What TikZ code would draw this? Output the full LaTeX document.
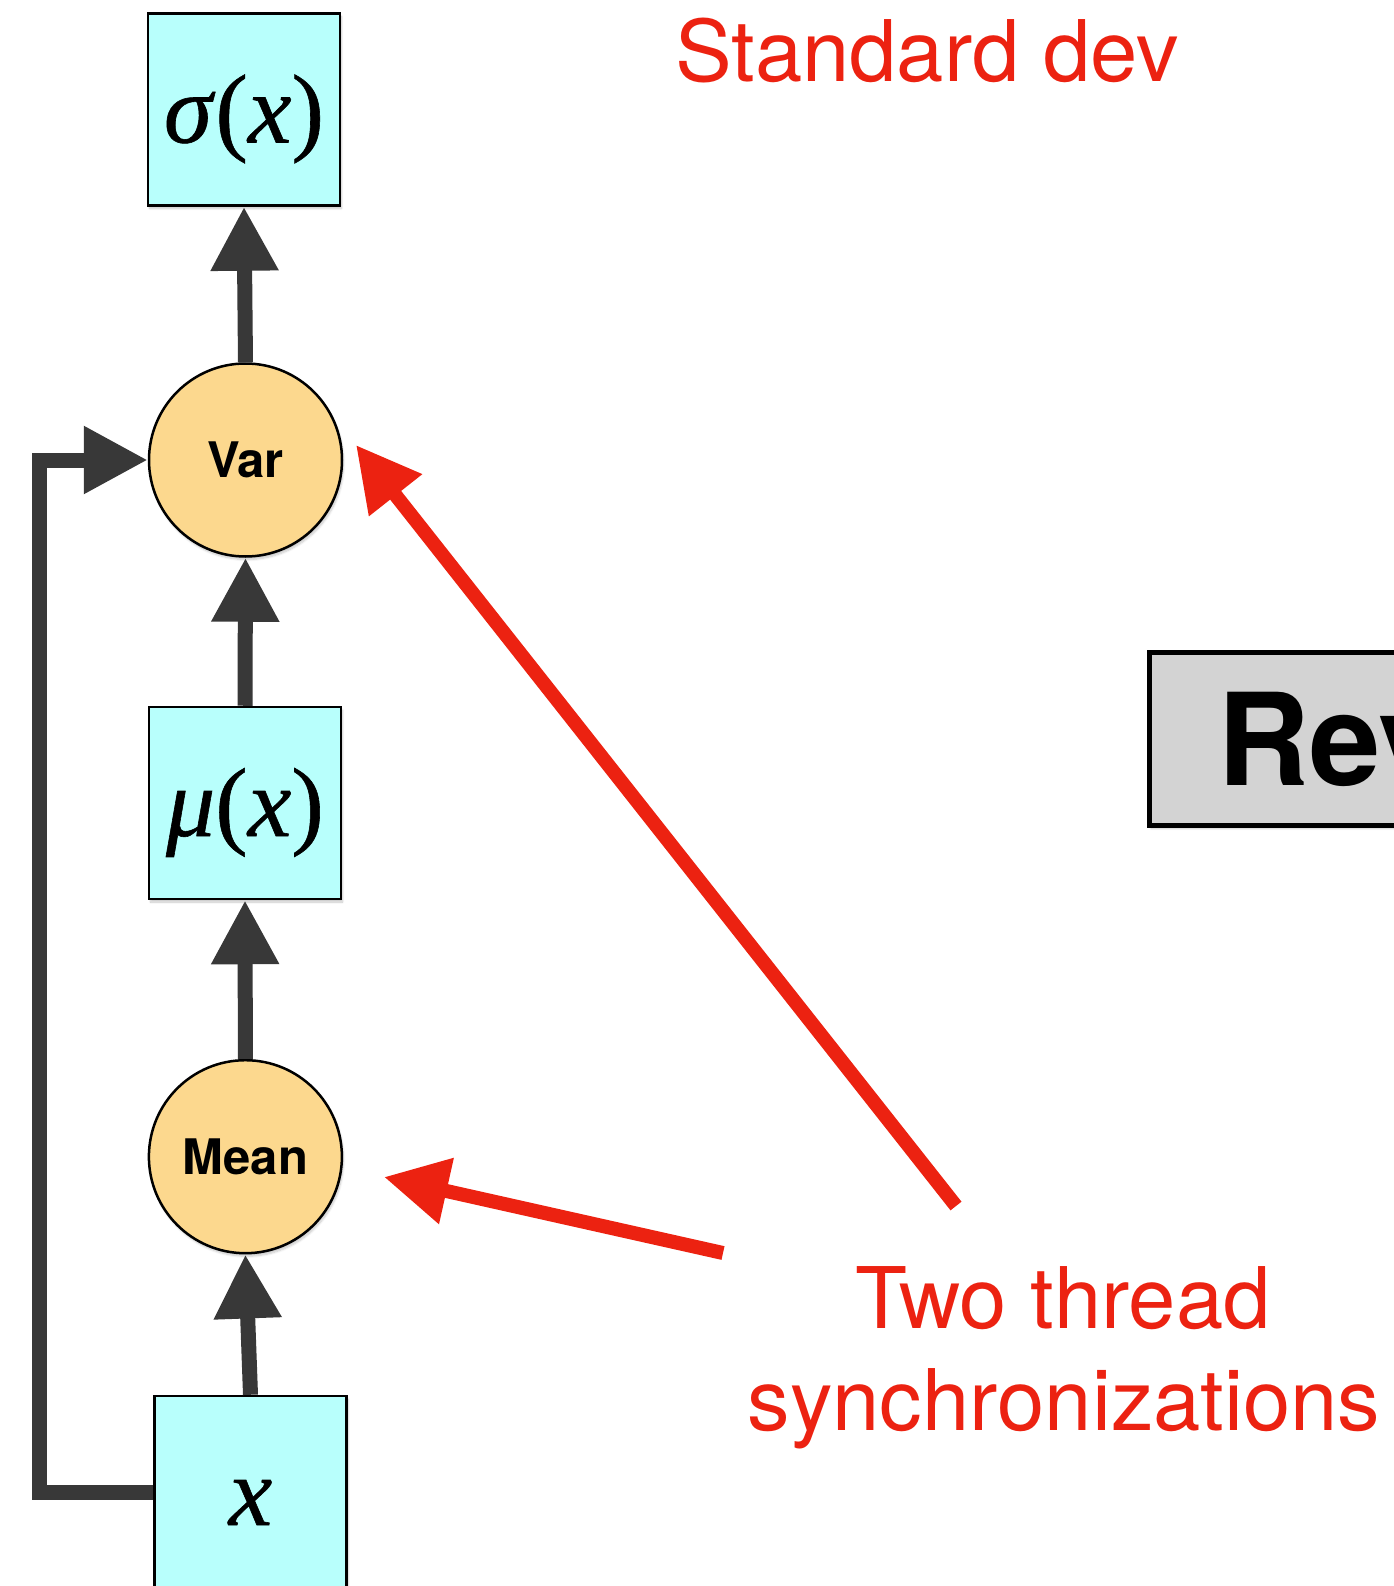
\documentclass[tikz,border=0pt]{standalone}
\usepackage{fontspec}
\setmainfont{TeX Gyre Heros}
\newfontfamily\mathserif[FakeBold=0.6]{Liberation Serif}
\usetikzlibrary{arrows.meta,shadows.blur}

\definecolor{boxcyan}{RGB}{184,255,252}
\definecolor{opcircle}{RGB}{252,216,142}
\definecolor{darkline}{RGB}{56,56,56}
\definecolor{alertred}{RGB}{236,34,17}
\definecolor{panelgray}{RGB}{211,211,211}

\tikzset{
  softshadow/.style={blur shadow={shadow xshift=1.5pt, shadow yshift=-3pt,
      shadow blur steps=6, shadow opacity=22}},
  valbox/.style={draw=black, line width=2.5pt, fill=boxcyan,
      minimum size=192pt, inner sep=0pt, softshadow,
      text height=86pt, text depth=20pt,
      font=\mathserif\fontsize{98}{98}\selectfont},
  opnode/.style={circle, draw=black, line width=2.5pt, fill=opcircle,
      minimum size=193pt, inner sep=0pt, softshadow,
      font=\bfseries\fontsize{49}{49}\selectfont},
  flow/.style={draw=darkline, line width=15pt, line join=miter,
      -{Triangle[length=64pt,width=64pt]}},
  alert/.style={draw=alertred, line width=14pt,
      -{Triangle[length=64pt,width=64pt]}},
  note/.style={text=alertred, inner sep=0pt,
      font=\fontsize{85}{85}\selectfont},
}

\begin{document}
\begin{tikzpicture}[x=1pt,y=-1pt]
  \useasboundingbox (0,0) rectangle (1393,1586);

  % value boxes and reduction operators
  \node[valbox] (sig) at (244,109.5) {\textit{σ}(\textit{x})};
  \node[opnode] (var) at (245.5,460) {Var};
  \node[valbox] (mu) at (245,803) {\textit{μ}(\textit{x})};
  \node[opnode] (mean) at (245.4,1156.7) {Mean};
  \node[valbox] (xb) at (250.5,1492) {\textit{x}};

  % data flow
  \draw[flow] (xb.north) -- (mean.south);
  \draw[flow] (mean.north) -- (mu.south);
  \draw[flow] (mu.north) -- (var.south);
  \draw[flow] (var.north) -- (sig.south);
  \coordinate (fb) at (39.5,460);
  \draw[flow] (xb.west) -| (fb) -- (var.west);

  % side panel
  \node[draw=black, line width=5pt, fill=panelgray, anchor=north west,
        minimum height=173pt, inner xsep=68pt, inner ysep=0pt, softshadow,
        font=\bfseries\fontsize{128}{128}\selectfont] (rev) at (1147,650) {Rev};

  % annotations
  \node[note, anchor=base] (stddev) at (927,82) {Standard dev};
  \node[note, anchor=base] (two1) at (1063,1328) {Two thread};
  \node[note, anchor=base] (two2) at (1064,1430) {synchronizations};

  \coordinate (longtail) at (956,1206);
  \coordinate (longtip) at (356,445);
  \coordinate (shorttail) at (723,1253);
  \coordinate (shorttip) at (384,1177);
  \draw[alert] (longtail) -- (longtip);
  \draw[alert] (shorttail) -- (shorttip);
\end{tikzpicture}
\end{document}
